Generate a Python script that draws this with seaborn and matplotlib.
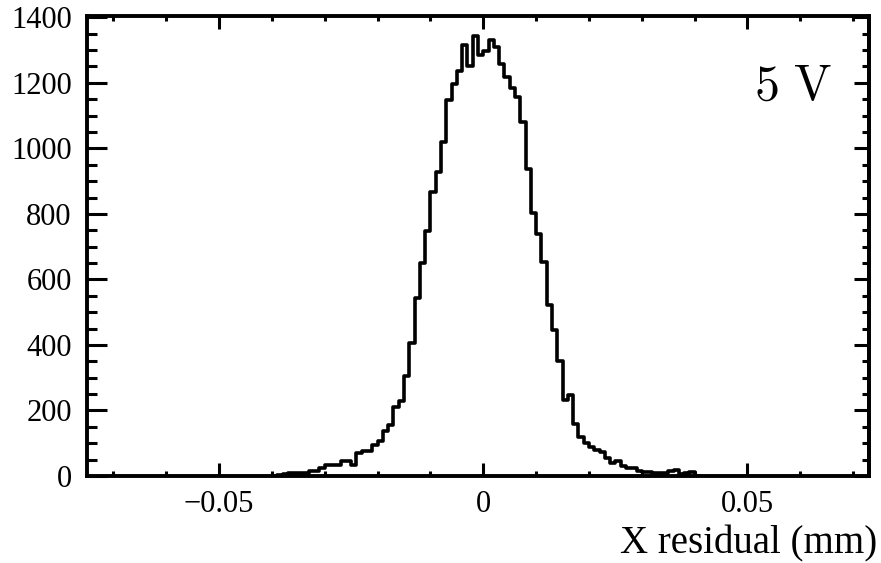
import numpy as np
import pandas as pd
import matplotlib
matplotlib.use("Agg")
import matplotlib.pyplot as plt
from matplotlib.ticker import MultipleLocator, FixedLocator
import seaborn as sns

# ---- data (bin counts, bin width 0.001 mm, first bin starts at -0.040) ----
first_edge = -0.040
bin_width = 0.001
counts = [
    0, 3, 5, 10, 10, 10, 10, 16, 16, 24,
    33, 33, 33, 47, 47, 34, 69, 77, 77, 95,
    108, 136, 156, 212, 228, 304, 407, 543, 651, 748,
    867, 927, 1020, 1148, 1197, 1236, 1317, 1250, 1344, 1285,
    1297, 1331, 1309, 1258, 1217, 1183, 1158, 1081, 937, 804,
    738, 653, 523, 447, 350, 233, 248, 158, 120, 102,
    90, 80, 74, 54, 39, 47, 29, 23, 23, 16,
    13, 13, 8, 10, 10, 16, 18, 6, 10, 13,
    0,
]
xtick_major = [-0.05, 0.0, 0.05]
xtick_labels = ["\u22120.05", "0", "0.05"]
ytick_major = [0, 200, 400, 600, 800, 1000, 1200, 1400]
x_label = "X residual (mm)"
annotation = r"$5\ \mathrm{V}$"

n = len(counts)
edges = first_edge + bin_width * np.arange(n + 1)
centers = 0.5 * (edges[:-1] + edges[1:])
df = pd.DataFrame({"x": centers, "w": counts})

sns.set_style("ticks")
plt.rcParams["font.family"] = ["Liberation Serif", "DejaVu Serif"]
plt.rcParams["mathtext.fontset"] = "cm"
for key in ["text.color", "axes.labelcolor", "xtick.color", "ytick.color",
            "axes.edgecolor"]:
    plt.rcParams[key] = "black"

fig = plt.figure(figsize=(8.81, 5.63), dpi=100)
ax = fig.add_axes([87 / 881, 1 - 476 / 563, (869 - 87) / 881, (476 - 16) / 563])

sns.histplot(data=df, x="x", weights="w", binwidth=bin_width,
             binrange=(float(edges[0]), float(edges[-1])), element="step",
             fill=False, color="black", linewidth=2.6, ax=ax)

ax.set_xlim(-0.075, 0.073)
ax.set_ylim(0, 1404)

ax.xaxis.set_major_locator(FixedLocator(xtick_major))
ax.set_xticklabels(xtick_labels)
ax.xaxis.set_minor_locator(MultipleLocator(0.01))
ax.yaxis.set_major_locator(FixedLocator(ytick_major))
ax.yaxis.set_minor_locator(MultipleLocator(50))

for sp in ax.spines.values():
    sp.set_visible(True)
    sp.set_linewidth(2.8)
    sp.set_color("black")

ax.tick_params(axis="x", which="major", direction="in", length=9.5, width=2.2,
               top=True, bottom=True, labelsize=22, pad=10, colors="black")
ax.tick_params(axis="x", which="minor", direction="in", length=3.8, width=2.2,
               top=True, bottom=True, colors="black")
ax.tick_params(axis="y", which="major", direction="in", length=14.5, width=2.2,
               left=True, right=False, labelsize=22, pad=11, colors="black")
ax.tick_params(axis="y", which="minor", direction="in", length=7.2, width=2.2,
               left=True, right=False, colors="black")

sec = ax.secondary_yaxis("right")
sec.yaxis.set_major_locator(FixedLocator(ytick_major))
sec.yaxis.set_minor_locator(MultipleLocator(50))
sec.tick_params(axis="y", which="major", direction="in", length=11, width=2.2,
                labelright=False, colors="black")
sec.tick_params(axis="y", which="minor", direction="in", length=5, width=2.2,
                colors="black")
sec.spines["right"].set_linewidth(2.8)
sec.spines["right"].set_color("black")

ax.set_ylabel("")
ax.set_xlabel(x_label, fontsize=28, ha="right", va="top", color="black")
ax.xaxis.set_label_coords((877 - 87) / (869 - 87), -0.108)

ax.text((832 - 87) / (869 - 87), (476 - 100) / 460, annotation,
        transform=ax.transAxes, ha="right", va="baseline", fontsize=36,
        color="black")

fig.savefig("out.png", dpi=100)
